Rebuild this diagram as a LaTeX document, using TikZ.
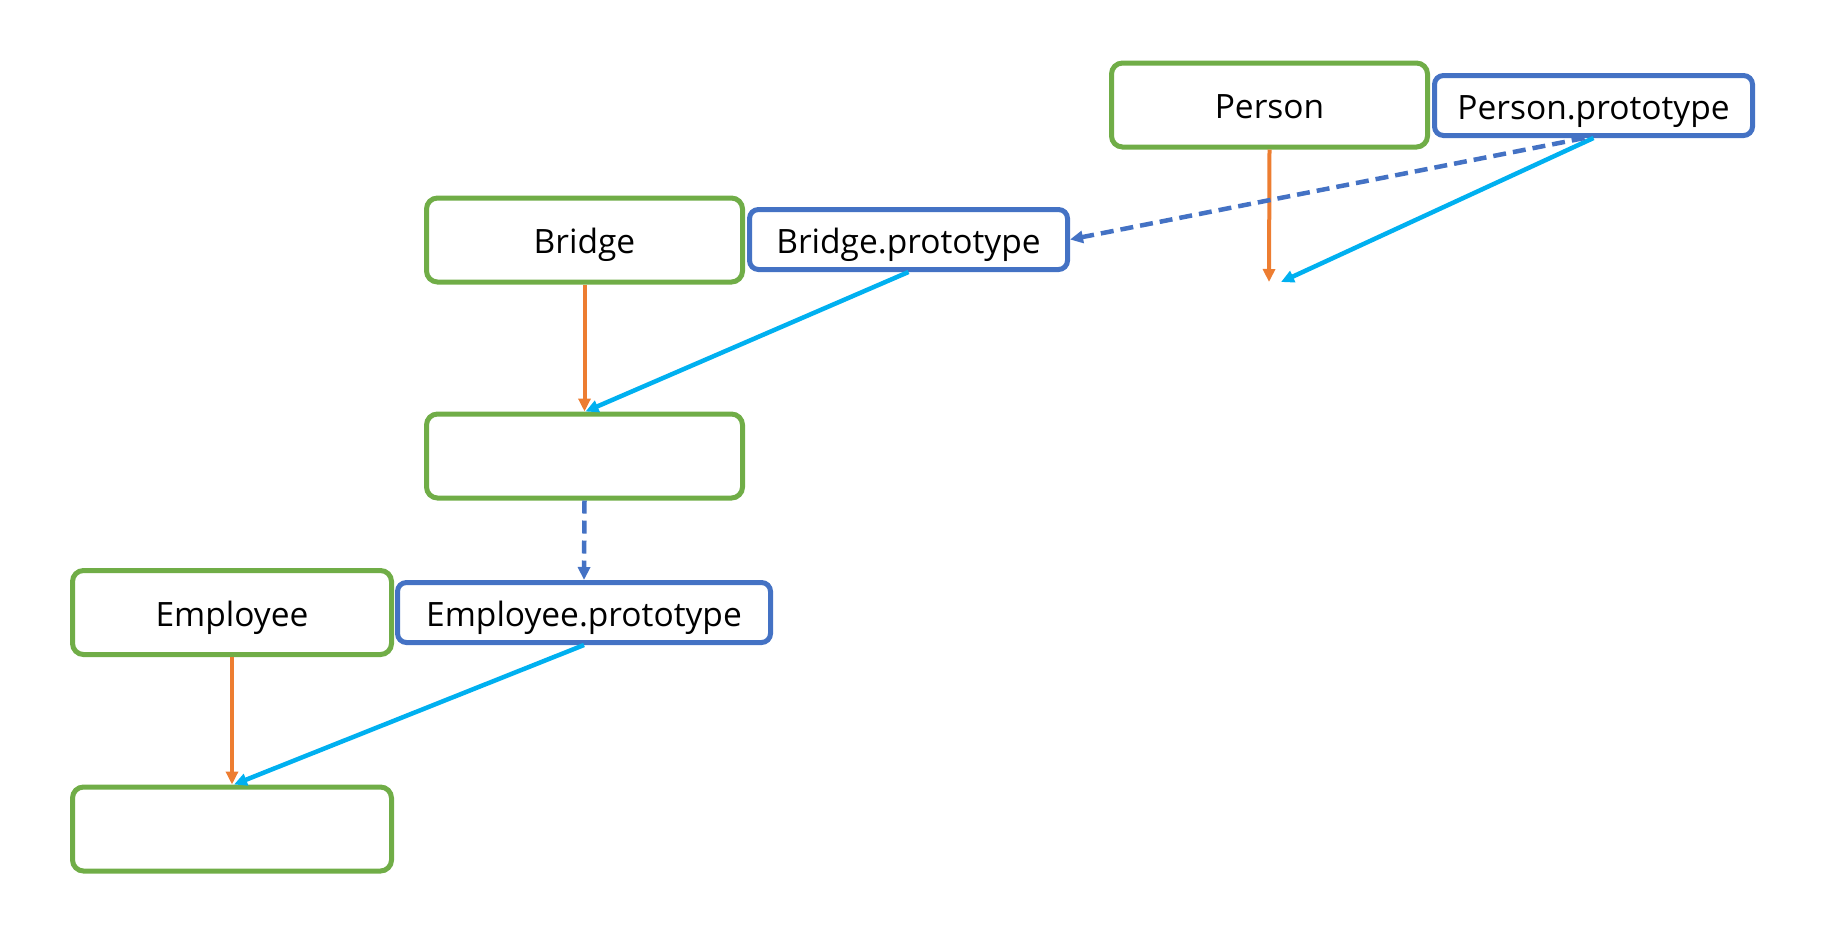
\documentclass[tikz,border=0pt]{standalone}
\usepackage{fontspec}
\setmainfont{Open Sans}
\usetikzlibrary{arrows.meta}
\definecolor{cgreen}{HTML}{70AD47}
\definecolor{cblue}{HTML}{4472C4}
\definecolor{corange}{HTML}{ED7D31}
\definecolor{ccyan}{HTML}{00B0F0}
\tikzset{
  lbl/.style={font=\fontsize{33.5}{38}\selectfont, text height=27pt, text depth=0pt},
  ctor/.style={lbl, draw=cgreen, line width=5pt, rounded corners=11pt, fill=white, minimum width=316pt, minimum height=84pt, inner sep=0pt},
  proto/.style={lbl, draw=cblue, line width=5pt, rounded corners=9pt, fill=white, minimum height=60pt, inner sep=0pt},
  tip/.style={-{Triangle[length=13pt,width=12pt]}},
  constr/.style={tip, draw=corange, line width=4pt},
  protolink/.style={tip, draw=ccyan, line width=4.5pt},
  chain/.style={tip, draw=cblue, line width=4.5pt, dash pattern=on 13pt off 7pt},
}
\begin{document}
\begin{tikzpicture}[x=1pt,y=-1pt]
\useasboundingbox (0,0) rectangle (1826,943);
% constructors
\node[ctor] (person) at (1269.5,105) {Person};
\node[proto, minimum width=318pt] (pp) at (1593.5,105.5) {Person.prototype};
\node[ctor] (bridge) at (584.5,240) {Bridge};
\node[proto, minimum width=318pt] (bp) at (908.5,239.5) {Bridge.prototype};
\node[ctor] (mid) at (584.5,456) {};
\node[ctor, minimum width=319pt] (emp) at (232,612.5) {Employee};
\node[proto, minimum width=373pt] (ep) at (584,612.5) {Employee.prototype};
\node[ctor, minimum width=319pt] (bot) at (232,829) {};
% free ends
\coordinate (pobj) at (1269,282);
\coordinate (pobj2) at (1281,282);
% connectors
\draw[constr] (person.south) -- (pobj);
\draw[protolink] (pp.south) -- (pobj2);
\draw[chain] ([xshift=-9pt]pp.south) -- (bp.east);
\draw[constr] (bridge.south) -- (mid.north);
\draw[protolink] (bp.south) -- ([xshift=1pt]mid.north);
\draw[chain] (mid.south) -- (ep.north);
\draw[constr] (emp.south) -- (bot.north);
\draw[protolink] (ep.south) -- ([xshift=2pt]bot.north);
\end{tikzpicture}
\end{document}
